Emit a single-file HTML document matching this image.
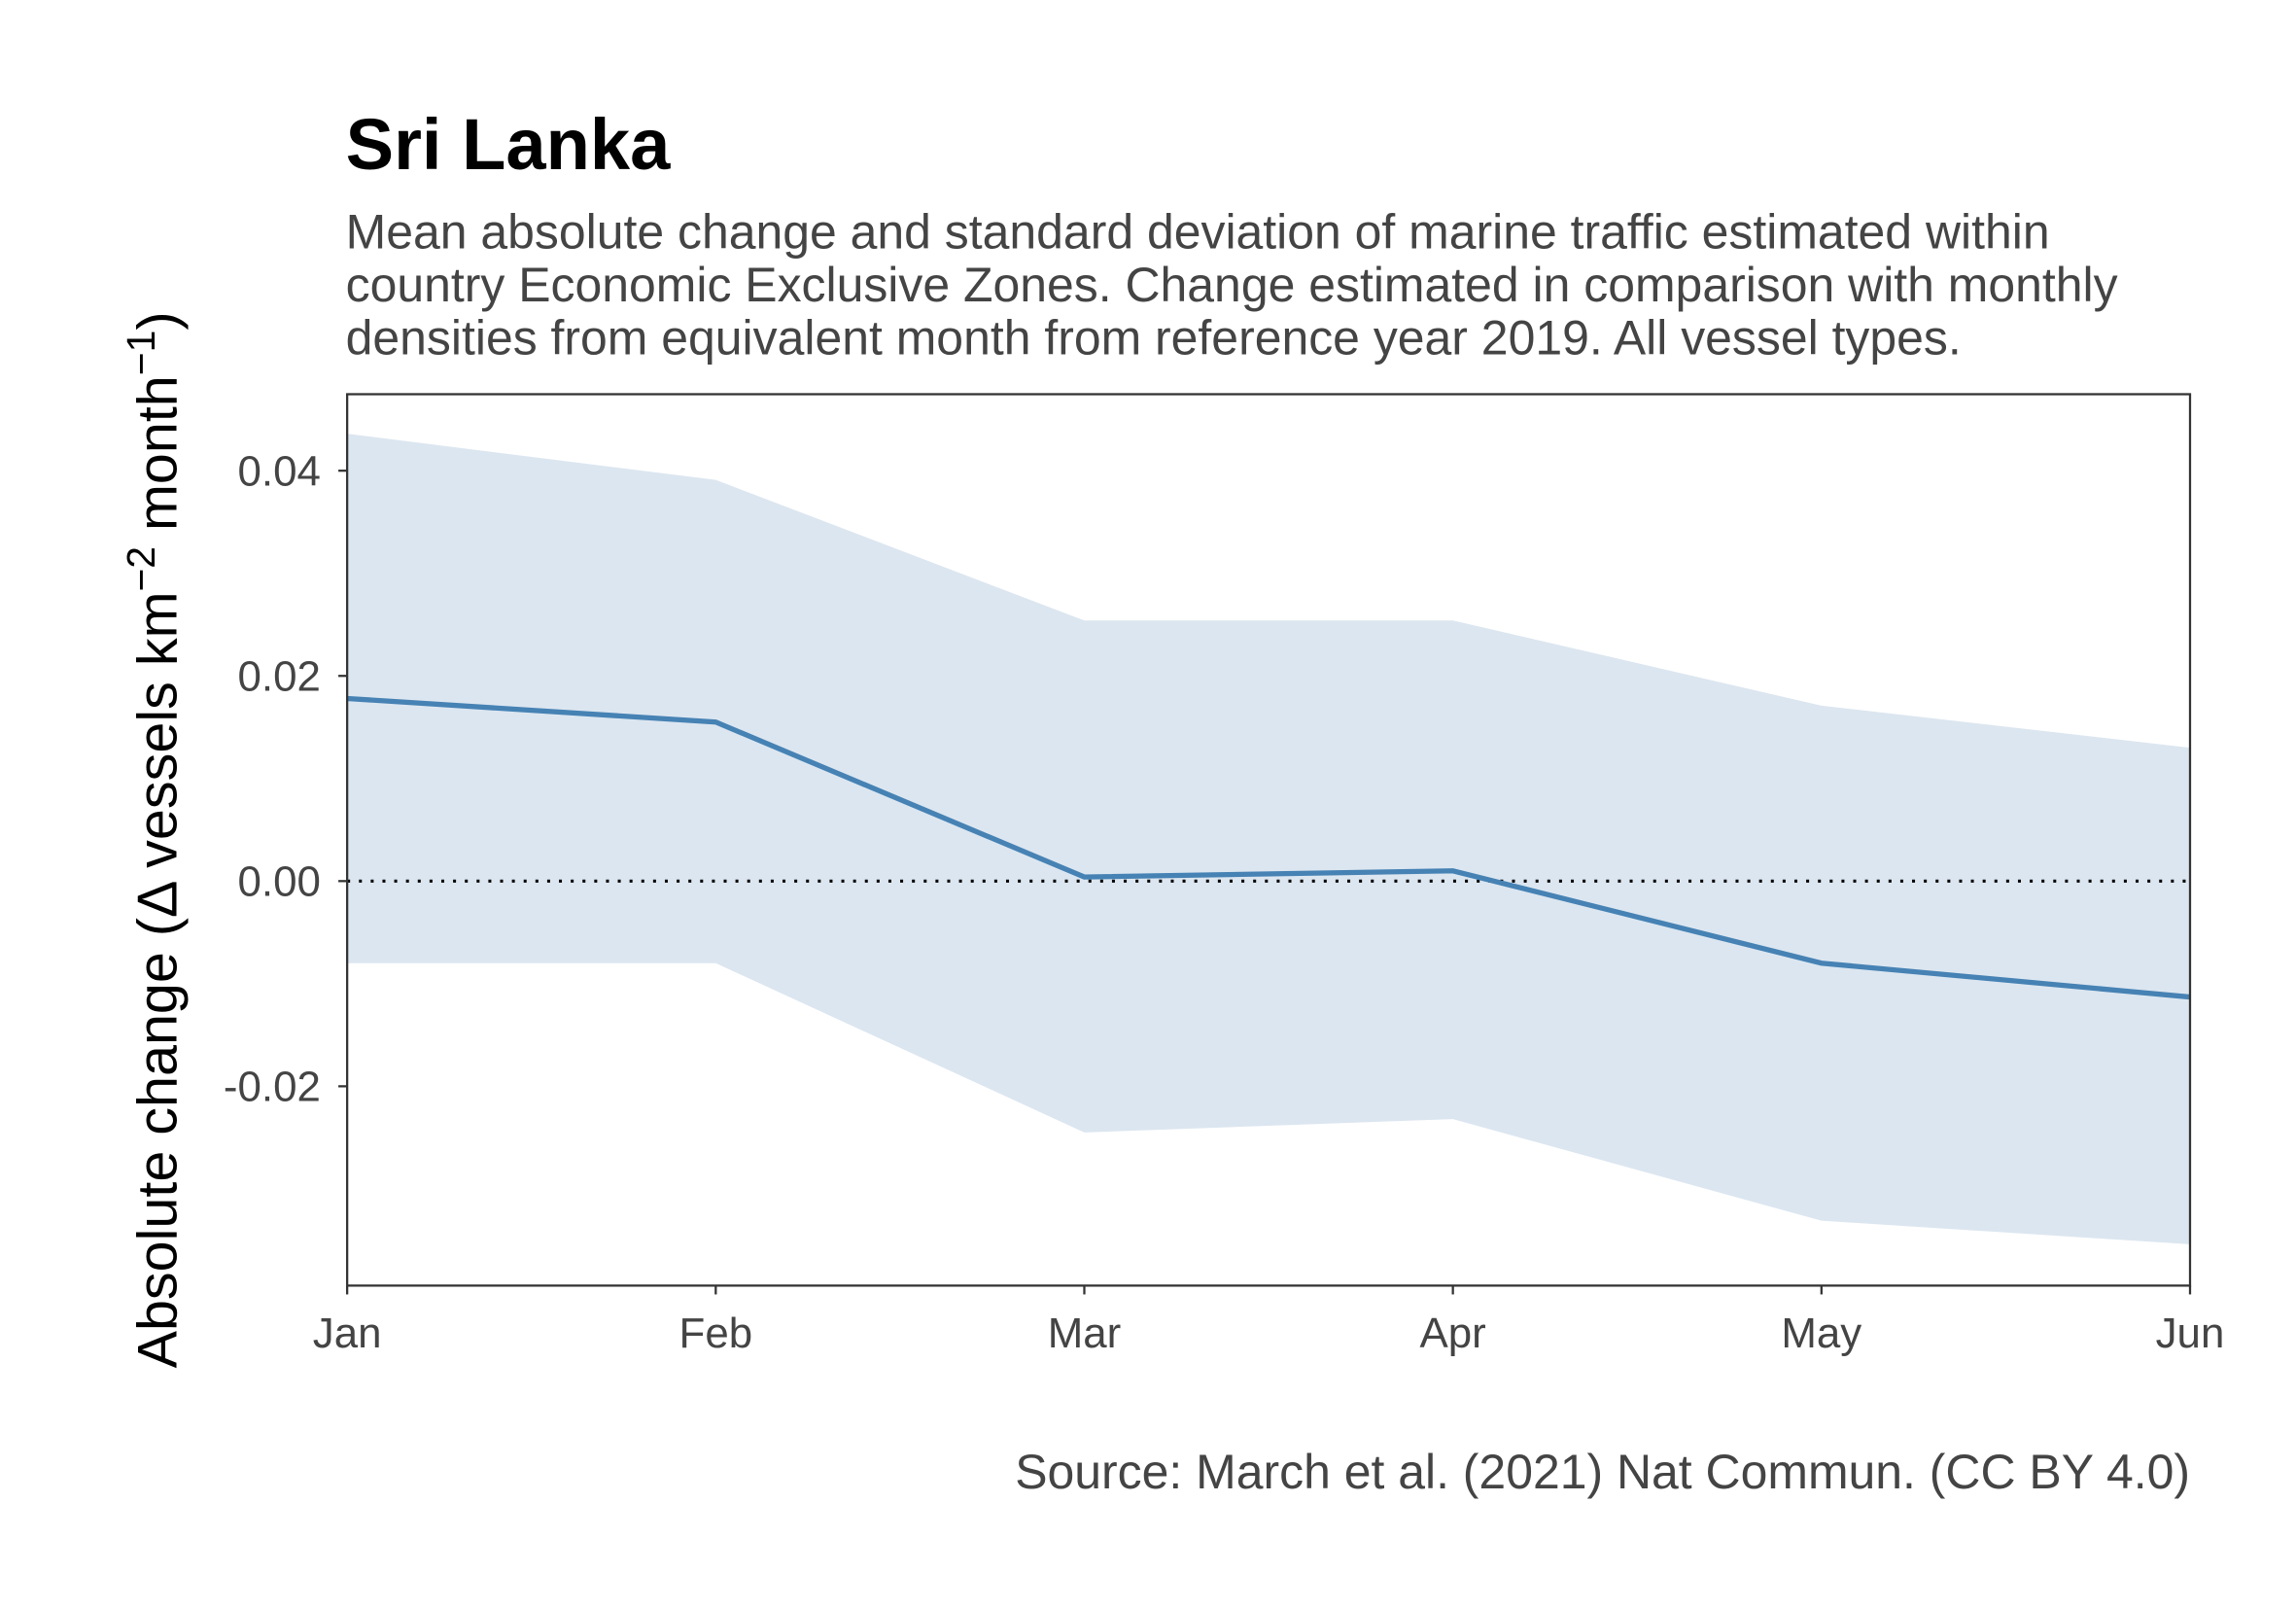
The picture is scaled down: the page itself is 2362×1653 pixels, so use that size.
<!DOCTYPE html>
<html><head><meta charset="utf-8"><style>html,body{margin:0;padding:0;background:#fff}svg{display:block}</style></head>
<body>
<svg id="chart" width="2362" height="1653" viewBox="0 0 1561 1092.5" xmlns="http://www.w3.org/2000/svg" font-family="Liberation Sans, Arial, sans-serif">
<rect width="1561" height="1092.5" fill="#fff"/>
<text x="235" y="115" font-size="49" font-weight="bold" fill="#000">Sri Lanka</text>
<g font-size="33" fill="#444">
<text x="235" y="169">Mean absolute change and standard deviation of marine traffic estimated within</text>
<text x="235" y="205">country Economic Exclusive Zones. Change estimated in comparison with monthly</text>
<text x="235" y="241">densities from equivalent month from reference year 2019. All vessel types.</text>
</g>
<g id="plot"></g>
<rect x="236" y="268" width="1253" height="606" fill="none" stroke="#333" stroke-width="1.5"/>
<text transform="translate(120,571) rotate(-90)" text-anchor="middle" font-size="38" fill="#000">Absolute change (Δ vessels km<tspan dy="-15" font-size="27">−2</tspan><tspan dy="15"> month</tspan><tspan dy="-15" font-size="27">−1</tspan><tspan dy="15">)</tspan></text>
<text x="1489" y="1012" text-anchor="end" font-size="33" fill="#444">Source: March et al. (2021) Nat Commun. (CC BY 4.0)</text>
</svg>
<script>
const months = ["Jan","Feb","Mar","Apr","May","Jun"];
const meanVals = [0.0178,0.0155,0.0004,0.0010,-0.0080,-0.0113];
const upperVals = [0.0436,0.0391,0.0254,0.0254,0.0171,0.0130];
const lowerVals = [-0.0080,-0.0080,-0.0245,-0.0232,-0.0331,-0.0354];
const yTicks = [0.04,0.02,0.00,-0.02];
const yTickLabels = ["0.04","0.02","0.00","-0.02"];

const NS="http://www.w3.org/2000/svg";
const L=236,R=1489,T=268,B=874;
const x=i=>L+(R-L)*i/(months.length-1);
const y=v=>599-v*6975;
const g=document.getElementById('plot');
function mk(t,a){const e=document.createElementNS(NS,t);for(const k in a)e.setAttribute(k,a[k]);g.appendChild(e);return e;}
let d=upperVals.map((v,i)=>(i?'L':'M')+x(i)+','+y(v)).join('');
for(let i=lowerVals.length-1;i>=0;i--)d+='L'+x(i)+','+y(lowerVals[i]);
const band=mk('path',{d:d+'Z',fill:'#dce6f0'});


const zl=mk('line',{x1:L,x2:R,y1:y(0),y2:y(0),stroke:'#000','stroke-width':2,'stroke-dasharray':'2,6'});


const ml=mk('path',{d:meanVals.map((v,i)=>(i?'L':'M')+x(i)+','+y(v)).join(''),fill:'none',stroke:'#4682b4','stroke-width':3.5});


yTicks.forEach((v,i)=>{
  const t=mk('line',{x1:L-6,x2:L,y1:y(v),y2:y(v),stroke:'#333','stroke-width':1.5});
  
  
  const tx=mk('text',{x:L-18,y:y(v)+10,'text-anchor':'end','font-size':29,fill:'#444'});
  tx.textContent=yTickLabels[i];
  
  
});
months.forEach((m,i)=>{
  const t=mk('line',{x1:x(i),x2:x(i),y1:B,y2:B+6,stroke:'#333','stroke-width':1.5});
  
  
  const tx=mk('text',{x:x(i),y:916,'text-anchor':'middle','font-size':29,fill:'#444'});
  tx.textContent=m;
  
  
});
</script>
</body></html>
